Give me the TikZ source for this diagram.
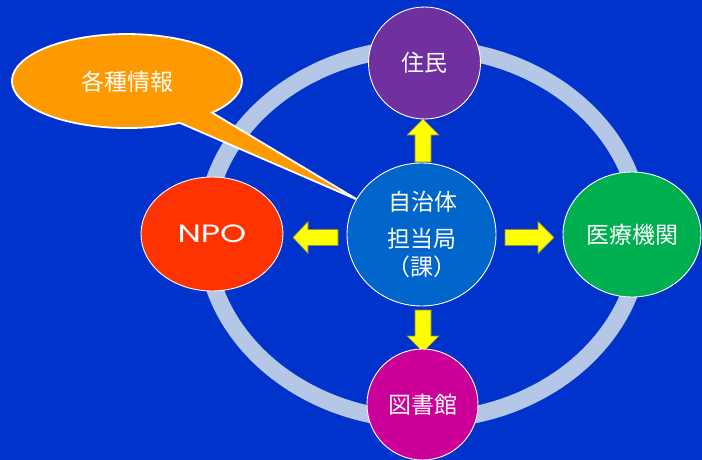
\documentclass[tikz,border=0pt]{standalone}
\usepackage{fontspec}
\setmainfont{Noto Sans CJK JP}
\newfontfamily\npofont{Poppins}
\usetikzlibrary{shapes.geometric}
\definecolor{bgblue}{HTML}{0033CC}
\definecolor{ringblue}{HTML}{B4C7E7}
\definecolor{centerblue}{HTML}{0066CC}
\definecolor{jpurple}{HTML}{7030A0}
\definecolor{jgreen}{HTML}{00B050}
\definecolor{jred}{HTML}{FF3300}
\definecolor{jmagenta}{HTML}{CC0099}
\definecolor{jorange}{HTML}{FF9900}
\definecolor{jyellow}{HTML}{FFFF00}
\definecolor{jedge}{HTML}{8C8C3C}
\begin{document}
\begin{tikzpicture}[x=1pt,y=1pt,
  disc/.style={draw=white, line width=0.9pt, text=white, inner sep=0pt, font=\fontsize{23}{27}\selectfont},
  lab/.style={text=white, inner sep=0pt, font=\fontsize{23}{27}\selectfont},
  blockarrow/.style={fill=jyellow, draw=jedge, line width=0.6pt, line join=miter}]
\useasboundingbox (0,0) rectangle (702,-460);
\fill[bgblue] (0,0) rectangle (702,-460);
% ring
\draw[ringblue, line width=17pt] (423,-234) ellipse [x radius=218, y radius=186];
% callout
\coordinate (tip) at (358,-200);
\draw[fill=jorange, draw=white, line width=1.8pt, line join=miter]
  (tip) -- (179.7,-122.8) arc[start angle=-62.7, end angle=-402.3, x radius=115, y radius=47] -- cycle;
\node[lab] (info) at (127,-82) {各種情報};
% arrows
\draw[blockarrow] (415,-162) -- (415,-135) -- (407,-135) -- (423,-119) -- (439,-135) -- (431,-135) -- (431,-162) -- cycle;
\draw[blockarrow] (415,-310) -- (415,-336) -- (407,-336) -- (423,-352) -- (439,-336) -- (431,-336) -- (431,-310) -- cycle;
\draw[blockarrow] (505,-229.5) -- (538,-229.5) -- (538,-221.5) -- (554,-237.5) -- (538,-253.5) -- (538,-245.5) -- (505,-245.5) -- cycle;
\draw[blockarrow] (338,-229.5) -- (308,-229.5) -- (308,-221.5) -- (293,-237.5) -- (308,-253.5) -- (308,-245.5) -- (338,-245.5) -- cycle;
% nodes
\node[disc, ellipse, fill=centerblue, minimum width=149pt, minimum height=143pt] (center) at (421.5,-234.5) {};
\node[lab] (c1) at (423,-202) {自治体};
\node[lab] (c2) at (422,-239) {担当局};
\node[lab] (c3) at (422,-267) {（課）};
\node[disc, circle, fill=jpurple, minimum size=112pt] (jumin) at (424.5,-63) {住民};
\node[disc, circle, fill=jmagenta, minimum size=111pt] (lib) at (422.5,-404.5) {図書館};
\node[disc, ellipse, fill=jgreen, minimum width=138pt, minimum height=125pt] (med) at (632,-234.5) {医療機関};
\node[disc, ellipse, fill=jred, minimum width=142pt, minimum height=114pt] (npo) at (212,-234) {\npofont\fontsize{25}{28}\selectfont\scalebox{1.33}[1]{NPO}};
\end{tikzpicture}
\end{document}
